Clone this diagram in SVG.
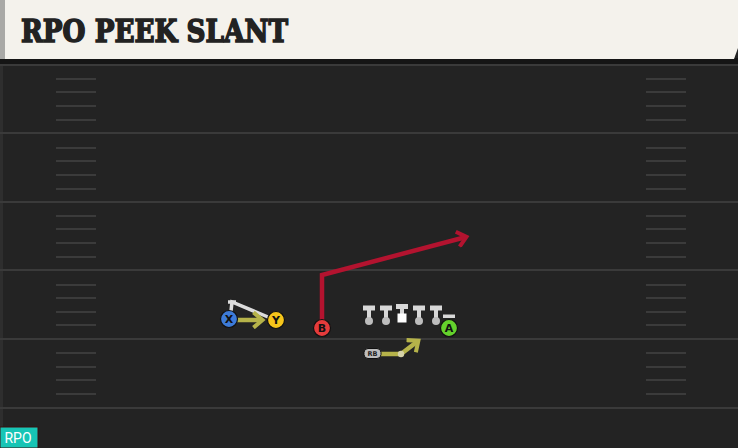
<svg xmlns="http://www.w3.org/2000/svg" width="738" height="448" viewBox="0 0 738 448">
<defs>
<style>
.yard{stroke:#3a3a3a;stroke-width:2}
.hash{stroke:#3b3b3b;stroke-width:2}
.pl{stroke:#111;stroke-width:1.2}
.lbl{font-family:"DejaVu Sans","Liberation Sans",sans-serif;font-weight:bold;font-size:11px;fill:#111;text-anchor:middle;dominant-baseline:central}
.ol{fill:none;stroke:#dcdcdc;stroke-width:3.5;stroke-linecap:round}
</style>
<marker id="ah-red" markerWidth="4" markerHeight="4" refX="2.2" refY="2" orient="auto" markerUnits="strokeWidth"><path d="M0.3,0.3 L2.3,2 L0.3,3.7" fill="none" stroke="#b3132f" stroke-width="0.9"/></marker>
<marker id="ah-yel" markerWidth="4" markerHeight="4" refX="2.2" refY="2" orient="auto" markerUnits="strokeWidth"><path d="M0.3,0.3 L2.3,2 L0.3,3.7" fill="none" stroke="#b6b34a" stroke-width="0.9"/></marker>
</defs>
<rect x="0" y="0" width="738" height="448" fill="#232323"/>
<rect x="0" y="60" width="3" height="388" fill="#2e2e2e"/>
<g id="field">
<line class="yard" x1="0" y1="65" x2="738" y2="65"/>
<line class="yard" x1="0" y1="133" x2="738" y2="133"/>
<line class="yard" x1="0" y1="202" x2="738" y2="202"/>
<line class="yard" x1="0" y1="270" x2="738" y2="270"/>
<line class="yard" x1="0" y1="339" x2="738" y2="339"/>
<line class="yard" x1="0" y1="408" x2="738" y2="408"/>
<g class="hash">
<path d="M56 79H96M56 92H96M56 106H96M56 120H96M56 148H96M56 161H96M56 175H96M56 189H96M56 216H96M56 229H96M56 243H96M56 257H96M56 285H96M56 298H96M56 312H96M56 325H96M56 353H96M56 367H96M56 380H96M56 394H96"/>
<path d="M646 79H686M646 92H686M646 106H686M646 120H686M646 148H686M646 161H686M646 175H686M646 189H686M646 216H686M646 229H686M646 243H686M646 257H686M646 285H686M646 298H686M646 312H686M646 325H686M646 353H686M646 367H686M646 380H686M646 394H686"/>
</g>
</g>
<g id="header">
<rect x="0" y="58" width="738" height="6" fill="#151515"/>
<path d="M0 0H738V48L734 59H0Z" fill="#f4f2ec"/>
<rect x="0" y="0" width="5" height="59" fill="#a9a9a6"/>
<text x="21" y="42" font-family="'DejaVu Serif','Liberation Serif',serif" font-weight="bold" font-size="31" fill="#222" stroke="#222" stroke-width="1.6" stroke-linejoin="miter" textLength="267" lengthAdjust="spacingAndGlyphs">RPO PEEK SLANT</text>
</g>
<g id="connectors">
<polyline points="322,322 322,275 466,237" fill="none" stroke="#b3132f" stroke-width="4.5" marker-end="url(#ah-red)"/>
<polyline class="ol" points="231,311 232,302 268,317"/>
<line x1="228" y1="302" x2="236" y2="302" stroke="#dcdcdc" stroke-width="3.5"/>
<line x1="237" y1="320" x2="262" y2="320" stroke="#b6b34a" stroke-width="4.5" marker-end="url(#ah-yel)"/>
<polyline points="380,354 401,354 418,341" fill="none" stroke="#b6b34a" stroke-width="4.5" marker-end="url(#ah-yel)"/>
</g>
<g id="oline" fill="#d8d8d8">
<g id="lt"><rect x="363" y="305.5" width="12" height="5"/><rect x="367" y="306" width="4" height="14"/><circle cx="369" cy="321" r="4" fill="#bdbdbd"/></g>
<g id="lg"><rect x="380" y="305.5" width="12" height="5"/><rect x="384" y="306" width="4" height="14"/><circle cx="386" cy="321" r="4" fill="#bdbdbd"/></g>
<g id="c"><rect x="396" y="304" width="12" height="5"/><rect x="400" y="304" width="4" height="10"/><rect x="397.5" y="313.5" width="9" height="9" fill="#fff"/></g>
<g id="rg"><rect x="413" y="305.5" width="12" height="5"/><rect x="417" y="306" width="4" height="14"/><circle cx="419" cy="321" r="4" fill="#bdbdbd"/></g>
<g id="rt"><rect x="430" y="305.5" width="12" height="5"/><rect x="434" y="306" width="4" height="14"/><circle cx="436" cy="321" r="4" fill="#bdbdbd"/></g>
<rect x="443" y="314.5" width="12" height="3.5"/>
</g>
<g id="rb">
<circle cx="401" cy="354" r="3.2" fill="#d6d3a8"/>
<rect x="364" y="348.5" width="17" height="10" rx="4" fill="#bdbdbd" stroke="#111" stroke-width="1"/>
<text x="372.5" y="354" font-family="'DejaVu Sans',sans-serif" font-size="6.5" font-weight="bold" fill="#222" text-anchor="middle" dominant-baseline="central">RB</text>
</g>
<g id="x"><circle class="pl" cx="229" cy="319" r="8.5" fill="#3d7bd8"/><text class="lbl" x="229" y="319.5">X</text></g>
<g id="y"><circle class="pl" cx="276" cy="320" r="8.5" fill="#f6c51b"/><text class="lbl" x="276" y="320.5">Y</text></g>
<g id="b"><circle class="pl" cx="322" cy="328" r="8.5" fill="#e53b3b"/><text class="lbl" x="322" y="328.5">B</text></g>
<g id="a"><circle class="pl" cx="449" cy="328" r="8.5" fill="#64d12c"/><text class="lbl" x="449" y="328.5">A</text></g>
<g id="tag">
<rect x="0" y="427" width="38" height="21" fill="#17c5b5" stroke="#3a1010" stroke-width="1"/>
<text x="18" y="438" font-family="'Roboto','Liberation Sans',sans-serif" font-size="14" fill="#fff" text-anchor="middle" dominant-baseline="central">RPO</text>
</g>
</svg>
